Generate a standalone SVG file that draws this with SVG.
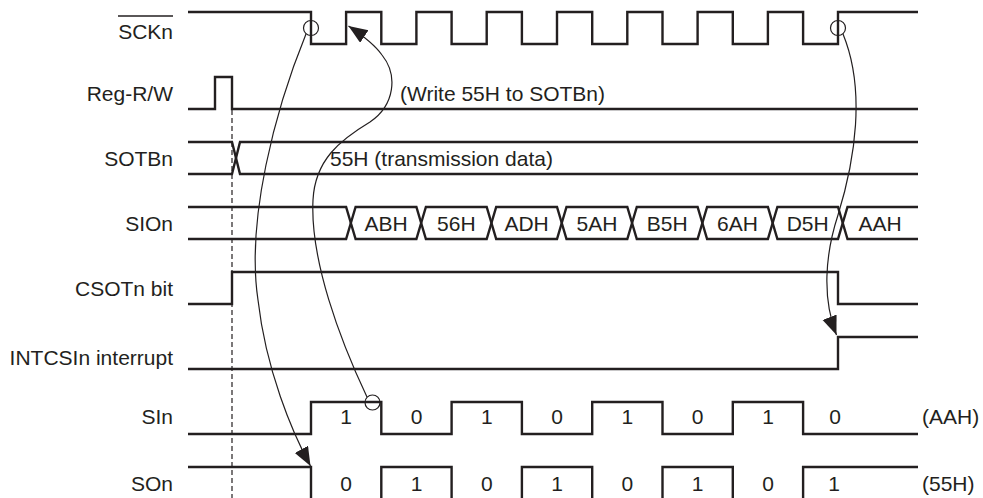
<svg xmlns="http://www.w3.org/2000/svg" width="983" height="498" viewBox="0 0 983 498">
<style>
text{font-family:"Liberation Sans",Arial,Helvetica,sans-serif;font-size:21px;fill:#231f20}
.lbl{text-anchor:end}
.c{text-anchor:middle}
.sig{fill:none;stroke:#231f20;stroke-width:2.4;stroke-linejoin:miter}
.thin{fill:none;stroke:#231f20;stroke-width:1.2}
.dash{fill:none;stroke:#231f20;stroke-width:1.2;stroke-dasharray:5 3}
</style>
<defs>
<marker id="ah" markerUnits="userSpaceOnUse" markerWidth="22" markerHeight="16" refX="19" refY="7.5" orient="auto">
<path d="M0,0 L19,7.5 L0,15 Z" fill="#231f20"/>
</marker>
</defs>
<rect width="983" height="498" fill="#fff"/>

<g id="dashed">
<line class="dash" x1="232" y1="110" x2="232" y2="498"/>
</g>

<g id="sckn">
<text class="lbl" x="173" y="39">SCKn</text>
<line x1="118" y1="16" x2="173" y2="16" stroke="#231f20" stroke-width="1.5"/>
<path class="sig" d="M188,12 H311 V44 H346.1 V12 H381.3 V44 H416.4 V12 H451.6 V44 H486.7 V12 H521.9 V44 H557 V12 H592.2 V44 H627.3 V12 H662.5 V44 H697.6 V12 H732.8 V44 H767.9 V12 H803.1 V44 H838 V12 H918"/>
<circle class="thin" cx="311" cy="28" r="7.5"/>
<circle class="thin" cx="838" cy="28" r="7.5"/>
</g>

<g id="regrw">
<text class="lbl" x="173" y="101">Reg-R/W</text>
<path class="sig" d="M188,109 H215 V77 H232 V109 H918"/>
<text x="400" y="101">(Write 55H to SOTBn)</text>
</g>

<g id="sotbn">
<text class="lbl" x="173" y="166">SOTBn</text>
<path class="sig" d="M188,142 H232 L240,174 H918"/>
<path class="sig" d="M188,174 H232 L240,142 H918"/>
<text x="330" y="166">55H (transmission data)</text>
</g>

<g id="sion">
<text class="lbl" x="173" y="231">SIOn</text>
<path class="sig" d="M188,207 H346.1 L350.85,223 L346.1,239 H188"/>
<path class="sig" d="M350.85,223 L355.6,207 H416.4 L421.15,223 L416.4,239 H355.6 Z"/>
<path class="sig" d="M421.15,223 L425.9,207 H486.7 L491.45,223 L486.7,239 H425.9 Z"/>
<path class="sig" d="M491.45,223 L496.2,207 H557 L561.75,223 L557,239 H496.2 Z"/>
<path class="sig" d="M561.75,223 L566.5,207 H627.3 L632.05,223 L627.3,239 H566.5 Z"/>
<path class="sig" d="M632.05,223 L636.8,207 H697.6 L702.35,223 L697.6,239 H636.8 Z"/>
<path class="sig" d="M702.35,223 L707.1,207 H767.9 L772.65,223 L767.9,239 H707.1 Z"/>
<path class="sig" d="M772.65,223 L777.4,207 H838 L842.75,223 L838,239 H777.4 Z"/>
<path class="sig" d="M918,207 H847.5 L842.75,223 L847.5,239 H918"/>
<text class="c" x="386" y="231">ABH</text>
<text class="c" x="456.3" y="231">56H</text>
<text class="c" x="526.6" y="231">ADH</text>
<text class="c" x="596.9" y="231">5AH</text>
<text class="c" x="667.2" y="231">B5H</text>
<text class="c" x="737.5" y="231">6AH</text>
<text class="c" x="807.7" y="231">D5H</text>
<text class="c" x="880" y="231">AAH</text>
</g>

<g id="csotn">
<text class="lbl" x="173" y="296">CSOTn bit</text>
<path class="sig" d="M188,304 H232 V272 H838 V304 H918"/>
</g>

<g id="intcsin">
<text class="lbl" x="173" y="365">INTCSIn interrupt</text>
<path class="sig" d="M188,369 H838 V337 H918"/>
</g>

<g id="sin">
<text class="lbl" x="173" y="424">SIn</text>
<path class="sig" d="M188,434 H311 V402 H381.3 V434 H451.6 V402 H521.9 V434 H592.2 V402 H662.5 V434 H732.8 V402 H803.1 V434 H918"/>
<circle class="thin" cx="372.5" cy="402.5" r="7.5"/>
<text class="c" x="346.2" y="424">1</text>
<text class="c" x="416.5" y="424">0</text>
<text class="c" x="486.8" y="424">1</text>
<text class="c" x="557.1" y="424">0</text>
<text class="c" x="627.4" y="424">1</text>
<text class="c" x="697.7" y="424">0</text>
<text class="c" x="768" y="424">1</text>
<text class="c" x="835" y="424">0</text>
<text x="922" y="424">(AAH)</text>
</g>

<g id="son">
<text class="lbl" x="173" y="491">SOn</text>
<path class="sig" d="M188,467 H311 V501 H381.3 V467 H451.6 V501 H521.9 V467 H592.2 V501 H662.5 V467 H732.8 V501 H803.1 V467 H918"/>
<text class="c" x="346.2" y="491">0</text>
<text class="c" x="416.5" y="491">1</text>
<text class="c" x="486.8" y="491">0</text>
<text class="c" x="557.1" y="491">1</text>
<text class="c" x="627.4" y="491">0</text>
<text class="c" x="697.7" y="491">1</text>
<text class="c" x="768" y="491">0</text>
<text class="c" x="834" y="491">1</text>
<text x="922" y="491">(55H)</text>
</g>

<g id="connectors">
<path class="thin" marker-end="url(#ah)" d="M306,34 C 275,110 246,220 258,300 C 266,370 292,432 310.5,466"/>
<path class="thin" marker-end="url(#ah)" d="M367,397 C 340,340 310,260 313,200 C 315,160 340,140 370,122 C 395,105 398,75 382,55 C 375,45 365,37 348.5,26"/>
<path class="thin" marker-end="url(#ah)" d="M843,34 C 866,90 855,160 838,215 C 825,255 822,298 836.5,335"/>
</g>
</svg>
